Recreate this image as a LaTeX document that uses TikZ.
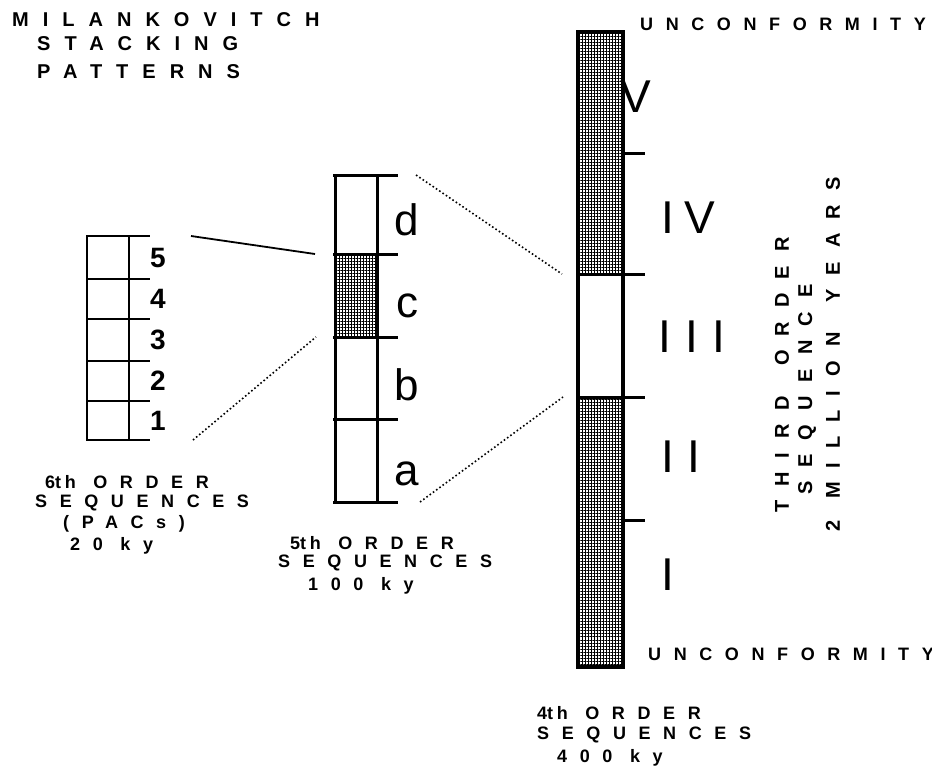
\documentclass[tikz,border=0pt]{standalone}
\usepackage{fontspec}
\setmainfont{Liberation Sans}
\newfontfamily\capsfont[LetterSpace=70]{Liberation Sans}
\usetikzlibrary{patterns.meta,positioning}
\newcommand{\ordth}{{\addfontfeature{LetterSpace=20}th}}

\begin{document}
\begin{tikzpicture}[x=1pt, y=-1pt,
  caps/.style={font=\capsfont\bfseries\fontsize{#1}{#1}\selectfont, inner sep=0pt, anchor=west},
  caps/.default=18,
  upcaps/.style={caps=20, rotate=90},
  colline/.style={line width=2.5pt},
  stipple/.style={pattern={Hatch[angle=0, distance=3pt, line width=1pt]}},
  numeral/.style={font=\fontsize{46}{46}\selectfont, inner sep=0pt, anchor=base},
  cellmark/.style={font=\fontsize{44}{44}\selectfont, inner sep=0pt, anchor=base},
  pacmark/.style={font=\bfseries\fontsize{28}{28}\selectfont, inner sep=0pt},
  zoomline/.style={line width=1.8pt},
  zoomdots/.style={line width=1.6pt, dash pattern=on 1.6pt off 2.4pt},
]
\useasboundingbox (0,0) rectangle (932,769);

% title
\node[caps=20] (title1) at (12,20) {MILANKOVITCH};
\node[caps=20] (title2) at (37,44) {STACKING};
\node[caps=20] (title3) at (37,72) {PATTERNS};

% 6th order column
\coordinate (six-nw) at (87,236);
\coordinate (six-ne) at (150,236);
\coordinate (six-se) at (150,440);
\draw[colline] (six-nw) rectangle (129,440);
\foreach \y in {236,279,319,361,401,440}
  \draw[colline] (87,\y) -- (150,\y);
\foreach \top/\bot/\n in {236/279/5, 279/319/4, 319/361/3, 361/401/2, 401/440/1}
  \node[pacmark] (pac\n) at (158,{(\top+\bot)/2}) {\n};

% 5th order column
\coordinate (five-ne) at (398,175);
\coordinate (five-se) at (398,502);
\coordinate (c-nw) at (335,254);
\coordinate (c-sw) at (335,337);
\fill[stipple] (c-nw) rectangle (377,337);
\draw[colline, line width=3pt] (335,175) rectangle (377,502);
\foreach \y in {175,254,337,419,502}
  \draw[colline, line width=3pt] (333,\y) -- (398,\y);
\foreach \lab/\base in {d/235, c/317, b/400, a/485}
  \node[cellmark] (cell\lab) at (407,\base) {\lab};

% 4th order column
\coordinate (iii-nw) at (578,274);
\coordinate (iii-sw) at (578,397);
\fill[stipple] (578,32) rectangle (623,274);
\fill[stipple] (578,397) rectangle (623,667);
\draw[colline, line width=3.5pt] (578,32) rectangle (623,667);
\foreach \y in {274,397}
  \draw[colline, line width=3pt] (578,\y) -- (645,\y);
\foreach \y in {153,520}
  \draw[colline, line width=3pt] (623,\y) -- (645,\y);
\node[numeral] (sqV) at (636,112) {V};
\node[numeral] (sqIV) at (688,233) {I\hspace{10pt}V};
\node[numeral] (sqIII) at (692,352) {I\hspace{14pt}I\hspace{14pt}I};
\node[numeral] (sqII) at (681,472) {I\hspace{13pt}I};
\node[numeral] (sqI) at (668,590) {I};

% zoom connectors
\draw[zoomline] ([xshift=41pt]six-ne) -- ([xshift=-20pt]c-nw);
\draw[zoomdots] ([xshift=43pt]six-se) -- ([xshift=-19pt]c-sw);
\draw[zoomdots] ([xshift=18pt]five-ne) -- ([xshift=-16pt]iii-nw);
\draw[zoomdots] ([xshift=22pt]five-se) -- ([xshift=-15pt]iii-sw);

% unconformities
\node[caps] (uncTop) at (640,24) {UNCONFORMITY};
\node[caps] (uncBot) at (648,654) {UNCONFORMITY};

% third order sequence
\node[upcaps] (third1) at (782,513) {THIRD\hskip 30pt ORDER};
\node[upcaps] (third2) at (807,495) {SEQUENCE};
\node[upcaps] (third3) at (833,532) {2\hskip 22pt MILLION\hskip 30pt YEARS};

% captions
\node[caps] (six1) at (45,482) {6\ordth\ ORDER};
\node[caps] (six2) at (35,503) {SEQUENCES};
\node[caps] (six3) at (63,524) {(PACs)};
\node[caps] (six4) at (70,546) {20 ky};

\node[caps] (five1) at (290,543) {5\ordth\ ORDER};
\node[caps] (five2) at (278,563) {SEQUENCES};
\node[caps] (five3) at (308,586) {100 ky};

\node[caps] (four1) at (537,713) {4\ordth\ ORDER};
\node[caps] (four2) at (537,735) {SEQUENCES};
\node[caps] (four3) at (557,758) {400 ky};
\end{tikzpicture}
\end{document}
